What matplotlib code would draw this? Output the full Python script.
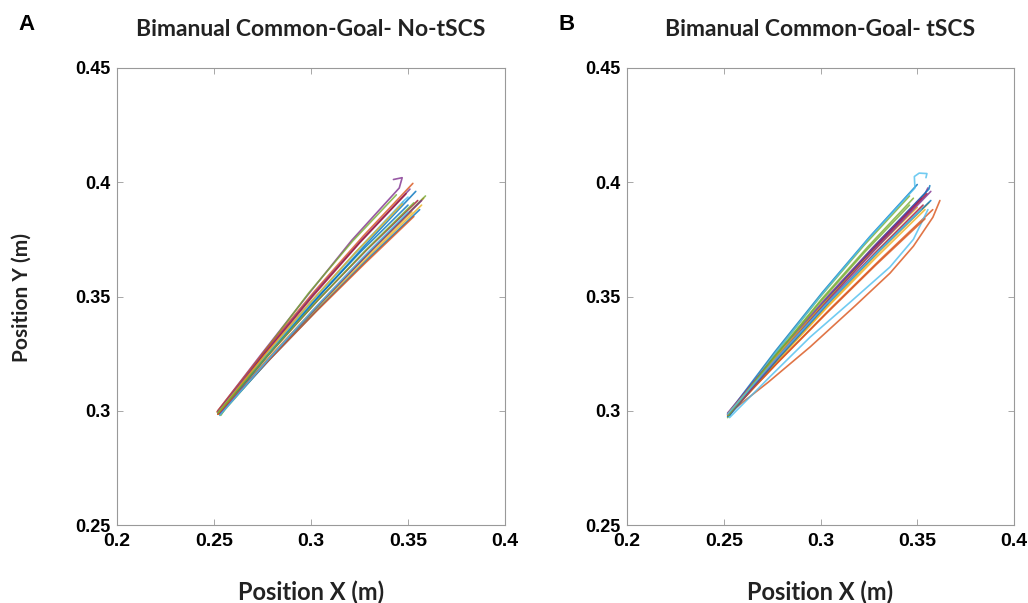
import matplotlib
matplotlib.use("Agg")
import matplotlib.pyplot as plt
from matplotlib import font_manager

# ---------------- data ----------------
titles = ["Bimanual Common-Goal- No-tSCS", "Bimanual Common-Goal- tSCS"]
panel_letters = ["A", "B"]
x_ticks = [0.2, 0.25, 0.3, 0.35, 0.4]
x_tick_labels = ["0.2", "0.25", "0.3", "0.35", "0.4"]
y_ticks = [0.25, 0.3, 0.35, 0.4, 0.45]
y_tick_labels = ["0.25", "0.3", "0.35", "0.4", "0.45"]
x_label = "Position X (m)"
y_label = "Position Y (m)"

# Panel A trajectories (x, y) in metres
traj_a = [
    [(0.2520, 0.2990), (0.2765, 0.3240), (0.3010, 0.3475), (0.3255, 0.3695), (0.3500, 0.3900)],
    [(0.2525, 0.2985), (0.2789, 0.3236), (0.3053, 0.3478), (0.3316, 0.3709), (0.3580, 0.3930)],
    [(0.2530, 0.2995), (0.2778, 0.3229), (0.3025, 0.3453), (0.3273, 0.3666), (0.3520, 0.3870)],
    [(0.2520, 0.3000), (0.2750, 0.3254), (0.2980, 0.3503), (0.3210, 0.3746), (0.3455, 0.3975),
     (0.3470, 0.4020), (0.3425, 0.4012)],
    [(0.2535, 0.2980), (0.2761, 0.3260), (0.2988, 0.3515), (0.3214, 0.3742), (0.3440, 0.3945)],
    [(0.2525, 0.2990), (0.2764, 0.3238), (0.3003, 0.3475), (0.3241, 0.3703), (0.3480, 0.3920),
     (0.3500, 0.3935)],
    [(0.2520, 0.2985), (0.2778, 0.3242), (0.3035, 0.3483), (0.3293, 0.3709), (0.3550, 0.3920)],
    [(0.2530, 0.2990), (0.2783, 0.3248), (0.3035, 0.3495), (0.3288, 0.3733), (0.3540, 0.3960)],
    [(0.2515, 0.2995), (0.2768, 0.3268), (0.3020, 0.3525), (0.3273, 0.3768), (0.3525, 0.3995)],
    [(0.2525, 0.2985), (0.2786, 0.3229), (0.3048, 0.3463), (0.3309, 0.3686), (0.3570, 0.3900)],
    [(0.2520, 0.2995), (0.2768, 0.3261), (0.3015, 0.3513), (0.3263, 0.3749), (0.3510, 0.3970)],
    [(0.2530, 0.2980), (0.2795, 0.3235), (0.3060, 0.3480), (0.3325, 0.3715), (0.3590, 0.3940)],
    [(0.2520, 0.2990), (0.2755, 0.3235), (0.2990, 0.3468), (0.3225, 0.3688), (0.3460, 0.3895),
     (0.3475, 0.3915)],
    [(0.2525, 0.2990), (0.2766, 0.3253), (0.3008, 0.3500), (0.3249, 0.3733), (0.3490, 0.3950)],
    [(0.2535, 0.2990), (0.2791, 0.3228), (0.3048, 0.3455), (0.3304, 0.3673), (0.3560, 0.3880)],
    [(0.2520, 0.2985), (0.2773, 0.3212), (0.3025, 0.3433), (0.3278, 0.3645), (0.3530, 0.3850)],
    [(0.2525, 0.2995), (0.2761, 0.3242), (0.2998, 0.3475), (0.3234, 0.3697), (0.3470, 0.3905)],
    [(0.2530, 0.2985), (0.2790, 0.3234), (0.3050, 0.3473), (0.3310, 0.3701), (0.3570, 0.3920)],
    [(0.2520, 0.2990), (0.2773, 0.3239), (0.3025, 0.3475), (0.3278, 0.3699), (0.3530, 0.3910)],
    [(0.2530, 0.2980), (0.2773, 0.3218), (0.3015, 0.3445), (0.3258, 0.3663), (0.3500, 0.3870)],
]

# Panel B trajectories (x, y) in metres
traj_b = [
    [(0.2520, 0.2985), (0.2765, 0.3259), (0.3010, 0.3518), (0.3255, 0.3762), (0.3500, 0.3990)],
    [(0.2520, 0.2985), (0.2730, 0.3125), (0.2946, 0.3279), (0.3180, 0.3460), (0.3359, 0.3602),
     (0.3480, 0.3720), (0.3581, 0.3847), (0.3617, 0.3920)],
    [(0.2530, 0.2985), (0.2783, 0.3224), (0.3035, 0.3453), (0.3288, 0.3671), (0.3540, 0.3880)],
    [(0.2525, 0.2980), (0.2779, 0.3238), (0.3033, 0.3485), (0.3286, 0.3723), (0.3540, 0.3950),
     (0.3555, 0.3975)],
    [(0.2520, 0.2970), (0.2755, 0.3239), (0.2990, 0.3490), (0.3225, 0.3724), (0.3460, 0.3940)],
    [(0.2525, 0.2975), (0.2766, 0.3252), (0.3007, 0.3510), (0.3247, 0.3752), (0.3488, 0.3975),
     (0.3485, 0.4025), (0.3510, 0.4040), (0.3550, 0.4038), (0.3545, 0.4020)],
    [(0.2525, 0.2990), (0.2776, 0.3233), (0.3028, 0.3465), (0.3279, 0.3688), (0.3530, 0.3900)],
    [(0.2520, 0.2975), (0.2780, 0.3242), (0.3040, 0.3498), (0.3300, 0.3740), (0.3560, 0.3970),
     (0.3565, 0.3985)],
    [(0.2530, 0.2990), (0.2793, 0.3224), (0.3055, 0.3450), (0.3318, 0.3669), (0.3580, 0.3880)],
    [(0.2525, 0.2980), (0.2784, 0.3228), (0.3043, 0.3465), (0.3301, 0.3693), (0.3560, 0.3910)],
    [(0.2520, 0.2990), (0.2770, 0.3244), (0.3020, 0.3485), (0.3270, 0.3714), (0.3520, 0.3930)],
    [(0.2530, 0.2985), (0.2768, 0.3243), (0.3005, 0.3488), (0.3243, 0.3716), (0.3480, 0.3930)],
    [(0.2530, 0.2970), (0.2740, 0.3150), (0.2946, 0.3322), (0.3160, 0.3480), (0.3359, 0.3629),
     (0.3480, 0.3750), (0.3555, 0.3880)],
    [(0.2525, 0.2985), (0.2781, 0.3241), (0.3038, 0.3488), (0.3294, 0.3724), (0.3550, 0.3950)],
    [(0.2530, 0.2980), (0.2790, 0.3237), (0.3050, 0.3480), (0.3310, 0.3707), (0.3570, 0.3920)],
    [(0.2520, 0.2980), (0.2775, 0.3207), (0.3030, 0.3425), (0.3285, 0.3637), (0.3540, 0.3840)],
    [(0.2525, 0.2990), (0.2769, 0.3234), (0.3013, 0.3465), (0.3256, 0.3684), (0.3500, 0.3890)],
    [(0.2530, 0.2985), (0.2790, 0.3244), (0.3050, 0.3493), (0.3310, 0.3731), (0.3570, 0.3960)],
    [(0.2525, 0.2980), (0.2759, 0.3232), (0.2993, 0.3470), (0.3226, 0.3692), (0.3460, 0.3900)],
    [(0.2520, 0.2985), (0.2770, 0.3227), (0.3020, 0.3458), (0.3270, 0.3674), (0.3520, 0.3880)],
]

# MATLAB default colour order
line_colors = ["#0072BD", "#D95319", "#EDB120", "#7E2F8E", "#77AC30", "#4DBEEE", "#A2142F"]

# ---------------- fonts ----------------
available = {f.name for f in font_manager.fontManager.ttflist}
def pick(*names):
    for n in names:
        if n in available:
            return n
    return "DejaVu Sans"

title_font = pick("Lato", "Open Sans", "Liberation Sans")
tick_font = pick("Liberation Sans", "DejaVu Sans")
narrow_font = pick("Liberation Sans Narrow", "Liberation Sans")

# ---------------- figure ----------------
fig = plt.figure(figsize=(10.28, 6.03), dpi=100)
W, H = 1028, 603
axes_px = [(117, 505), (627, 1014)]
top_px, bot_px = 68, 525

all_traj = [traj_a, traj_b]
for i, (l, r) in enumerate(axes_px):
    ax = fig.add_axes([l / W, 1 - bot_px / H, (r - l) / W, (bot_px - top_px) / H])
    for k, tr in enumerate(all_traj[i]):
        xs = [p[0] for p in tr]
        ys = [p[1] for p in tr]
        ax.plot(xs, ys, color=line_colors[k % len(line_colors)], lw=1.2, alpha=0.8,
                solid_capstyle="round", solid_joinstyle="round")
    ax.set_xlim(0.2, 0.4)
    ax.set_ylim(0.25, 0.45)
    ax.set_xticks(x_ticks)
    ax.set_xticklabels(x_tick_labels, fontfamily=narrow_font, fontweight="bold", fontsize=14)
    ax.set_yticks(y_ticks)
    ax.set_yticklabels(y_tick_labels, fontfamily=tick_font, fontweight="bold", fontsize=13)
    ax.tick_params(direction="in", length=4, width=0.6, color="#999999",
                   top=True, right=True, pad=5)
    ax.tick_params(axis="x", pad=6)
    for s in ax.spines.values():
        s.set_color("#999999")
        s.set_linewidth(0.8)
    cx = (l + r) / 2 / W
    fig.text(cx, 1 - 30 / H, titles[i], ha="center", va="center",
             fontfamily=title_font, fontweight="bold", fontsize=16.5, color="#222222")
    fig.text(cx, 1 - 592 / H, x_label, ha="center", va="center",
             fontfamily=title_font, fontweight="bold", fontsize=17, color="#222222")

fig.text(18 / W, 1 - 25 / H, panel_letters[0], ha="left", va="center",
         fontfamily=tick_font, fontweight="bold", fontsize=16)
fig.text(558 / W, 1 - 25 / H, panel_letters[1], ha="left", va="center",
         fontfamily=tick_font, fontweight="bold", fontsize=16)
fig.text(22 / W, 1 - 297 / H, y_label, ha="center", va="center", rotation=90,
         fontfamily=title_font, fontweight="bold", fontsize=15, color="#222222")

fig.savefig("out.png", dpi=100, facecolor="white")
